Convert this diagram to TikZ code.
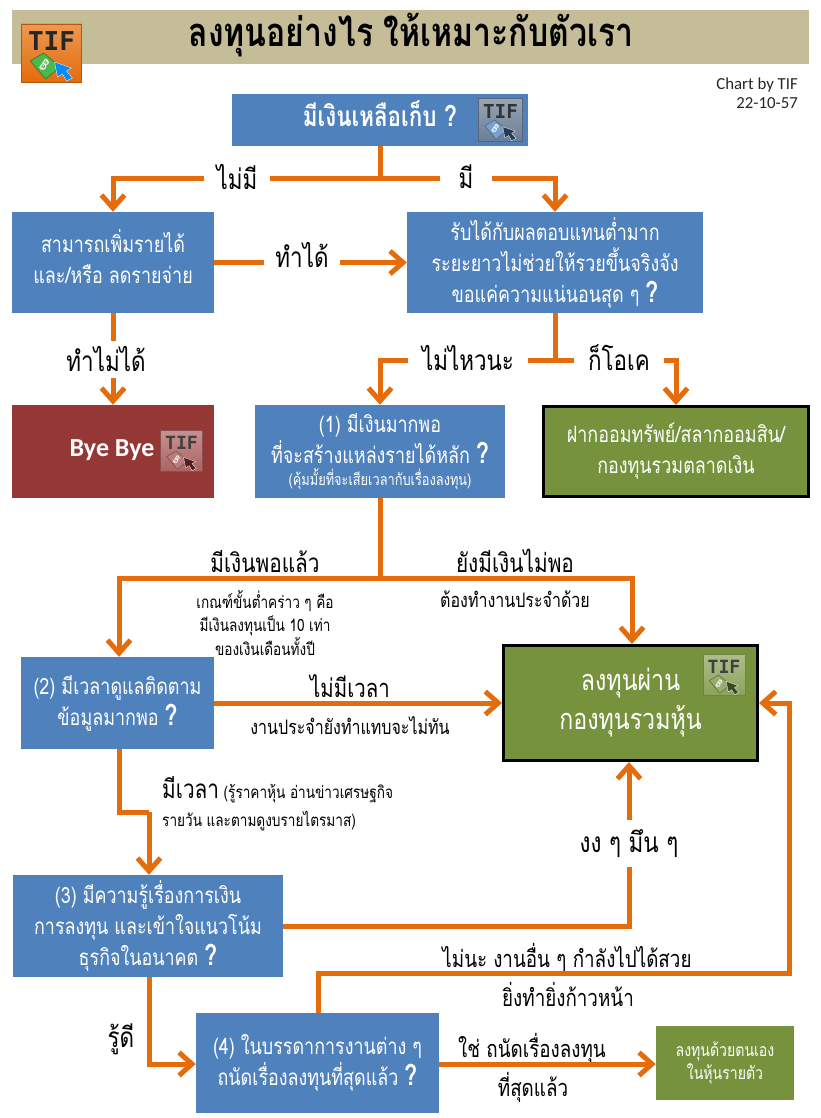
\documentclass[tikz,border=0pt]{standalone}
\usepackage{fontspec}
\usetikzlibrary{arrows.meta}
\setmainfont[Script=Thai,FakeStretch=.8]{Loma}
\newfontfamily\latinfont{Carlito}
\newfontfamily\logofont{DejaVu Sans Mono}
\definecolor{tifblue}{HTML}{4F81BD}
\definecolor{tifgreen}{HTML}{76923C}
\definecolor{tifred}{HTML}{953735}
\definecolor{tiforange}{HTML}{E46C0A}
\definecolor{tifsand}{HTML}{C4BD97}
\newcommand{\thsize}[2]{\fontsize{#1}{#2}\selectfont}
\newcommand{\qmark}{\textbf{\fontsize{29}{29}\selectfont ?}}
\newcommand{\tiflogo}[8]{%
  \begin{scope}[shift={(#2,#3)},scale=#4,transform shape]
    \path[top color=#5!70!white,bottom color=#5,draw=#5!80!black,line width=.6pt]
      (-30,-29) rectangle (30,29);
    \node[text=#6,font=\logofont\bfseries\fontsize{26}{26}\selectfont,inner sep=0pt]
      (#1tif) at (0,-12) {TIF};
    \path[fill=#7,draw=#7!70!black,line width=.8pt]
      (-21,8)--(-8,0)--(9,14)--(-6,26)--cycle;
    \node[text=white,font=\fontsize{15}{15}\selectfont,rotate=-35,inner sep=0pt]
      (#1baht) at (-7,12) {฿};
    \path[fill=#8,draw=white,line width=.3pt]
      (3,9)--(20,15)--(15,18)--(21,25)--(15,28)--(11,21)--(6,24)--cycle;
  \end{scope}}
\tikzset{
  qbox/.style={fill=tifblue,text=white,align=center,inner sep=0pt},
  gbox/.style={fill=tifgreen,text=white,align=center,inner sep=0pt},
  endbox/.style={gbox,draw=black,line width=3pt},
  lab/.style={text=black,inner sep=0pt,font=\thsize{28}{32}},
  midlab/.style={text=black,inner sep=0pt,font=\thsize{23.5}{28}},
  sublab/.style={text=black,inner sep=0pt,align=center,font=\thsize{17}{23.5}},
  flow/.style={draw=tiforange,line width=5pt},
  flowto/.style={flow,-{Straight Barb[length=13pt,width=23pt]}}
}
\begin{document}
\begin{tikzpicture}[x=1pt,y=-1pt,font=\thsize{22.4}{31}]
  \useasboundingbox (0,0) rectangle (820,1118);
  \path[fill=tifsand] (12,10) rectangle (809,64);
  \tiflogo{head}{51.5}{53}{1}{tiforange}{black!85}{green!60!black!70!white}{blue!45!cyan}
  \node[text=black,inner sep=0pt,font=\bfseries\thsize{40}{44}] (title) at (411,35)
    {ลงทุนอย่างไร ให้เหมาะกับตัวเรา};
  \node[align=right,anchor=north east,inner sep=0pt,text=black!85,font=\latinfont\thsize{16.8}{19}]
    (byline) at (798,78) {Chart by TIF\\22-10-57};

  \node[qbox,minimum width=296pt,minimum height=52pt,text depth=12pt,font=\bfseries\thsize{28}{30}]
    (root) at (380,120) {มีเงินเหลือเก็บ \qmark};
  \node[qbox,minimum width=202pt,minimum height=101pt,text depth=13pt] (income) at (113,262.5)
    {สามารถเพิ่มรายได้\\และ/หรือ ลดรายจ่าย};
  \node[qbox,minimum width=296pt,minimum height=101pt] (lowret) at (555,262.5)
    {รับได้กับผลตอบแทนต่ำมาก\\ระยะยาวไม่ช่วยให้รวยขึ้นจริงจัง\\ขอแค่ความแน่นอนสุด ๆ \qmark};
  \node[fill=tifred,minimum width=202pt,minimum height=93pt,inner sep=0pt] (bye) at (113,451.5) {};
  \node[text=white,inner sep=0pt,font=\latinfont\bfseries\thsize{26}{28}] (byetext) at (112,450) {Bye Bye};
  \node[qbox,minimum width=250pt,minimum height=93pt] (q1) at (380,451.5)
    {(1) มีเงินมากพอ\\ที่จะสร้างแหล่งรายได้หลัก \qmark\\[-9pt]{\thsize{16}{17}(คุ้มมั้ยที่จะเสียเวลากับเรื่องลงทุน)}};
  \node[endbox,minimum width=265pt,minimum height=90pt] (bank) at (676,451.5)
    {ฝากออมทรัพย์/สลากออมสิน/\\กองทุนรวมตลาดเงิน};
  \node[qbox,minimum width=193pt,minimum height=92pt] (q2) at (117.5,703)
    {(2) มีเวลาดูแลติดตาม\\ข้อมูลมากพอ \qmark};
  \node[endbox,minimum width=254pt,minimum height=115pt,font=\thsize{29}{39}] (fund) at (630.5,703)
    {ลงทุนผ่าน\\กองทุนรวมหุ้น};
  \node[qbox,minimum width=270pt,minimum height=102pt] (q3) at (148,926)
    {(3) มีความรู้เรื่องการเงิน\\การลงทุน และเข้าใจแนวโน้ม\\ธุรกิจในอนาคต \qmark};
  \node[qbox,minimum width=243pt,minimum height=100pt] (q4) at (317.5,1063)
    {(4) ในบรรดาการงานต่าง ๆ\\ถนัดเรื่องลงทุนที่สุดแล้ว \qmark};
  \node[gbox,minimum width=138pt,minimum height=74pt,font=\thsize{17.6}{23}] (self) at (725,1063)
    {ลงทุนด้วยตนเอง\\ในหุ้นรายตัว};

  \tiflogo{rootl}{500.5}{120}{.74}{tifblue!55!black!70!white}{black!80}{tifblue!75!white}{tifblue!45!black}
  \tiflogo{byel}{181.5}{451}{.7}{tifred!78!white}{black!75}{tifred!65!white}{tifred!55!black}
  \tiflogo{fundl}{724}{675}{.7}{tifgreen!85!white}{black!75}{tifgreen!75!white}{tifgreen!50!black}

  \coordinate (split) at (380,179);
  \node[lab,minimum width=66pt] (nomoney) at (237,177) {ไม่มี};
  \node[lab,minimum width=52pt] (money) at (466,177) {มี};
  \draw[flow] (root.south) -- (split);
  \draw[flow] (split) -- (nomoney.east |- split);
  \draw[flow] (split) -- (money.west |- split);
  \draw[flowto] (nomoney.west |- split) -| (income.north);
  \draw[flowto] (money.east |- split) -| (lowret.north);

  \node[lab,minimum width=76pt] (cando) at (302,255) {ทำได้};
  \draw[flow] (income.east |- lowret.west) -- (cando.west |- lowret.west);
  \draw[flowto] (cando.east |- lowret.west) -- (lowret.west);

  \node[lab,minimum height=37pt] (cannot) at (106,359.5) {ทำไม่ได้};
  \draw[flow] (income.south) -- (income.south |- cannot.north);
  \draw[flowto] (bye.north |- cannot.south) -- (bye.north);

  \coordinate (splitb) at (555,360);
  \node[lab,minimum width=120pt] (nope) at (468,358) {ไม่ไหวนะ};
  \node[lab,minimum width=90pt] (okay) at (619,358) {ก็โอเค};
  \draw[flow] (lowret.south) -- (splitb);
  \draw[flow] (splitb) -- (nope.east |- splitb);
  \draw[flow] (splitb) -- (okay.west |- splitb);
  \draw[flowto] (nope.west |- splitb) -| (q1.north);
  \draw[flowto] (okay.east |- splitb) -| (bank.north);

  \coordinate (splitc) at (380,578);
  \node[lab,font=\thsize{26}{30}] (enough) at (265,562) {มีเงินพอแล้ว};
  \node[lab,font=\thsize{26}{30}] (notenough) at (515,561) {ยังมีเงินไม่พอ};
  \node[sublab] (rule) at (265,623) {เกณฑ์ขั้นต่ำคร่าว ๆ คือ\\มีเงินลงทุนเป็น 10 เท่า\\ของเงินเดือนทั้งปี};
  \node[sublab,font=\thsize{20}{24}] (keepjob) at (515,599) {ต้องทำงานประจำด้วย};
  \draw[flow] (q1.south) -- (splitc);
  \draw[flowto] (splitc) -| (q2.north -| 119,0);
  \draw[flowto] (splitc) -| (fund.north -| 632,0);

  \node[lab,font=\thsize{25.5}{30}] (notime) at (350,686) {ไม่มีเวลา};
  \node[sublab,font=\thsize{20}{24}] (busy) at (350,726) {งานประจำยังทำแทบจะไม่ทัน};
  \draw[flowto] (q2.east) -- (fund.west);

  \coordinate (stepa) at (119,812);
  \coordinate (stepb) at (149,812);
  \node[sublab,anchor=north west,align=left,font=\thsize{17}{28}] (hastime) at (162,776)
    {{\thsize{26}{24}มีเวลา} (รู้ราคาหุ้น อ่านข่าวเศรษฐกิจ\\รายวัน และตามดูงบรายไตรมาส)};
  \draw[flow] (stepa |- q2.south) -- (stepa) -- (stepb);
  \draw[flowto] (stepb) -- (stepb |- q3.north);

  \node[lab,minimum height=47pt] (confused) at (629,843.5) {งง ๆ มึน ๆ};
  \draw[flow] (q3.east) -| (confused.south);
  \draw[flowto] (confused.north) -- (confused.north |- fund.south);

  \coordinate (stepc) at (149,1064);
  \node[lab] (knowwell) at (121,1039) {รู้ดี};
  \draw[flowto] (stepc |- q3.south) -- (stepc) -- (q4.west |- stepc);

  \coordinate (stepd) at (318,973);
  \coordinate (stepe) at (789,973);
  \coordinate (stepf) at (789,703);
  \node[midlab] (otherjob) at (567,958) {ไม่นะ\hspace{6pt}งานอื่น ๆ กำลังไปได้สวย};
  \node[midlab] (ahead) at (568,994) {ยิ่งทำยิ่งก้าวหน้า};
  \draw[flowto] (q4.north -| stepd) -- (stepd) -- (stepe) -- (stepf) -- (fund.east);

  \node[midlab] (goodat) at (532,1048) {ใช่ ถนัดเรื่องลงทุน};
  \node[midlab] (bestat) at (533,1087) {ที่สุดแล้ว};
  \draw[flowto] (q4.east |- stepc) -- (self.west |- stepc);
\end{tikzpicture}
\end{document}
